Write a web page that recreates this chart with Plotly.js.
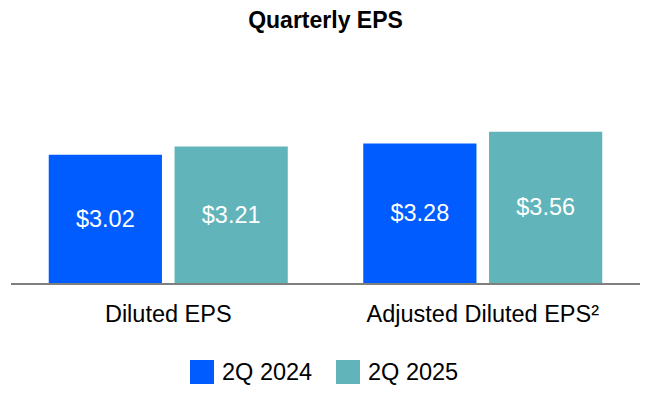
<!DOCTYPE html>
<html>
<head>
<meta charset="utf-8">
<script src="https://cdn.plot.ly/plotly-3.0.1.min.js"></script>
<style>html,body{margin:0;padding:0;background:#fff;}#chart{width:650px;height:398px;}</style>
</head>
<body>
<div id="chart"></div>
<script>
const categories = ["Diluted EPS", "Adjusted Diluted EPS²"];
const seriesNames = ["2Q 2024", "2Q 2025"];
const values2024 = [3.02, 3.28];
const values2025 = [3.21, 3.56];
const seriesColors = ["#005CFF", "#60B4BA"];
const chartTitle = "Quarterly EPS";

const FONT = "'Liberation Sans', Arial, Helvetica, sans-serif";
const seriesValues = [values2024, values2025];

const traces = seriesNames.map((name, i) => ({
  type: "bar",
  name: name,
  x: categories,
  y: seriesValues[i],
  marker: {color: seriesColors[i], line: {width: 0}},
  texttemplate: "$%{y:.2f}",
  textposition: "inside",
  insidetextanchor: "middle",
  textfont: {color: "#ffffff", size: 23.5, family: FONT},
  hoverinfo: "skip",
  showlegend: false
}));

// custom legend (large square swatches)
const legendX = [190, 336];
const shapes = [];
const annotations = [];
seriesNames.forEach((name, i) => {
  shapes.push({
    type: "rect", xref: "paper", yref: "paper",
    x0: (legendX[i] - 11) / 629, x1: (legendX[i] + 24 - 11) / 629,
    y0: -(360 - 283) / 170, y1: -(384 - 283) / 170,
    fillcolor: seriesColors[i], line: {width: 0}
  });
  annotations.push({
    xref: "paper", yref: "paper",
    x: (legendX[i] + 30 - 11) / 629, y: -(372 - 283) / 170,
    xanchor: "left", yanchor: "middle",
    text: name, showarrow: false,
    font: {size: 23.5, color: "#000000", family: FONT}
  });
});

const layout = {
  width: 650, height: 398,
  margin: {l: 11, r: 10, t: 113, b: 115, pad: 0},
  paper_bgcolor: "#ffffff", plot_bgcolor: "#ffffff",
  font: {family: FONT, color: "#000000"},
  title: {
    text: "<b>" + chartTitle + "</b>",
    font: {size: 23, color: "#000000", family: FONT},
    x: 0.5, xanchor: "center", xref: "paper",
    y: 1 - 20 / 398, yref: "container", yanchor: "middle"
  },
  barmode: "group",
  bargap: 0.2,
  bargroupgap: 0.1,
  xaxis: {
    type: "category",
    showline: true, linecolor: "#7F7F7F", linewidth: 2,
    showgrid: false, zeroline: false, ticks: "",
    ticklabelstandoff: 9,
    tickfont: {size: 23.5, color: "#000000", family: FONT},
    fixedrange: true
  },
  yaxis: {
    range: [0, 4],
    visible: false, showgrid: false, zeroline: false,
    fixedrange: true
  },
  shapes: shapes,
  annotations: annotations,
  showlegend: false
};

Plotly.newPlot("chart", traces, layout, {displayModeBar: false, staticPlot: true});
</script>
</body>
</html>
